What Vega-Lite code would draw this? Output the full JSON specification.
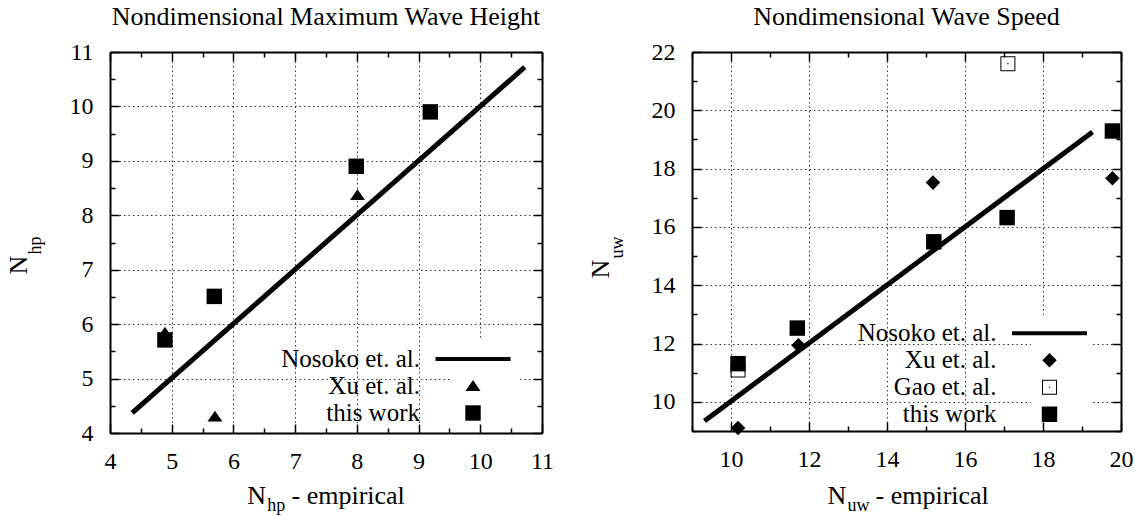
{
  "$schema": "https://vega.github.io/schema/vega-lite/v6.json",
  "background": "white",
  "padding": {"left": 5, "top": 4, "right": 0, "bottom": 0},
  "config": {
    "view": {"stroke": null},
    "font": "Liberation Serif",
    "axis": {"labelFont": "Liberation Serif", "titleFont": "Liberation Serif", "labelColor": "black", "titleColor": "black", "titleFontWeight": "normal", "domainColor": "black", "tickColor": "black", "labelFlush": false, "labelOverlap": false, "labelBound": false},
    "title": {"font": "Liberation Serif", "fontSize": 26, "fontWeight": "normal", "color": "black", "frame": "group", "anchor": "middle", "baseline": "alphabetic"}
  },
  "datasets": {
    "left": [
      {"series": "Nosoko et. al.", "x": 4.36, "y": 4.37},
      {"series": "Nosoko et. al.", "x": 10.72, "y": 10.72},
      {"series": "Xu et. al.", "x": 4.89, "y": 5.84},
      {"series": "Xu et. al.", "x": 5.7, "y": 4.3},
      {"series": "Xu et. al.", "x": 8.01, "y": 8.37},
      {"series": "this work", "x": 4.89, "y": 5.71},
      {"series": "this work", "x": 5.69, "y": 6.51},
      {"series": "this work", "x": 7.99, "y": 8.9},
      {"series": "this work", "x": 9.19, "y": 9.9}
    ],
    "right": [
      {"series": "Nosoko et. al.", "x": 9.32, "y": 9.34},
      {"series": "Nosoko et. al.", "x": 19.27, "y": 19.26},
      {"series": "Xu et. al.", "x": 10.18, "y": 9.1},
      {"series": "Xu et. al.", "x": 11.73, "y": 11.94},
      {"series": "Xu et. al.", "x": 15.18, "y": 17.52},
      {"series": "Xu et. al.", "x": 19.78, "y": 17.67},
      {"series": "Gao et. al.", "x": 10.18, "y": 11.09},
      {"series": "Gao et. al.", "x": 17.1, "y": 21.6},
      {"series": "this work", "x": 10.18, "y": 11.31},
      {"series": "this work", "x": 11.7, "y": 12.53},
      {"series": "this work", "x": 15.2, "y": 15.49},
      {"series": "this work", "x": 17.08, "y": 16.32},
      {"series": "this work", "x": 19.78, "y": 19.29}
    ]
  },
  "spacing": 33,
  "resolve": {"scale": {"shape": "independent"}, "legend": {"shape": "independent"}},
  "hconcat": [
    {
      "width": 432,
      "height": 381,
      "title": {"text": "Nondimensional Maximum Wave Height", "offset": 10},
      "data": {"name": "left"},
      "resolve": {"axis": {"x": "independent", "y": "independent"}},
      "layer": [
        {
          "transform": [{"filter": "datum.series === 'Nosoko et. al.'"}],
          "mark": {"type": "line", "color": "black", "strokeWidth": 5, "strokeCap": "butt"},
          "encoding": {
            "x": {"field": "x", "type": "quantitative", "scale": {"domain": [4, 11], "nice": false, "zero": false},
              "axis": {"orient": "bottom", "values": [4, 5, 6, 7, 8, 9, 10, 11], "ticks": false, "domain": false, "grid": true, "gridColor": "black", "gridDash": [1.5, 3], "gridWidth": 1, "gridOpacity": 0.8, "labelFontSize": 24, "labelPadding": 16, "title": "N", "titleFontSize": 26, "titleX": 136.7, "titleY": 70.3, "titleAlign": "left", "titleBaseline": "alphabetic", "zindex": 0}},
            "y": {"field": "y", "type": "quantitative", "scale": {"domain": [4, 11], "nice": false, "zero": false},
              "axis": {"orient": "left", "values": [4, 5, 6, 7, 8, 9, 10, 11], "ticks": false, "domain": false, "grid": true, "gridColor": "black", "gridDash": [1.5, 3], "gridWidth": 1, "gridOpacity": 0.8, "labelFontSize": 24, "labelPadding": 17, "title": "N", "titleFontSize": 26, "titleX": -83.3, "titleY": 222, "titleAngle": -90, "titleAlign": "left", "titleBaseline": "alphabetic", "zindex": 0}}
          }
        },
        {
          "transform": [{"filter": "datum.series !== 'Nosoko et. al.'"}],
          "mark": {"type": "point", "filled": true, "color": "black", "opacity": 1, "size": 225, "strokeWidth": 0},
          "encoding": {
            "x": {"field": "x", "type": "quantitative",
              "axis": {"orient": "top", "values": [4, 4.5, 5, 5.5, 6, 6.5, 7, 7.5, 8, 8.5, 9, 9.5, 10, 10.5, 11], "labels": false, "grid": false, "domain": true, "domainWidth": 2, "tickWidth": 1.5, "tickSize": {"condition": {"test": "datum.value % 1 != 0", "value": -5}, "value": -9}, "title": "- empirical", "titleFontSize": 26, "titleX": 181, "titleY": 451.3, "titleAngle": 0, "titleAlign": "left", "titleBaseline": "alphabetic", "zindex": 1}},
            "y": {"field": "y", "type": "quantitative",
              "axis": {"orient": "right", "values": [4, 4.5, 5, 5.5, 6, 6.5, 7, 7.5, 8, 8.5, 9, 9.5, 10, 10.5, 11], "labels": false, "grid": false, "title": null, "domain": true, "domainWidth": 2, "tickWidth": 1.5, "tickSize": {"condition": {"test": "datum.value % 1 != 0", "value": -5}, "value": -9}, "zindex": 1}},
            "shape": {"field": "series", "type": "nominal",
              "scale": {"domain": ["Nosoko et. al.", "Xu et. al.", "this work"],
                "range": ["M-5,-0.28H5V0.28H-5Z", "M0,-0.8L1,0.65L-1,0.65Z", "M-1.03,-1.03H1.03V1.03H-1.03Z"]},
              "legend": {"orient": "none", "legendX": 342.5, "legendY": 286.5, "title": null, "labelFont": "Liberation Serif", "labelFontSize": 25, "labelColor": "black", "labelAlign": "right", "labelOffset": -65.5, "labelLimit": 400, "symbolSize": 225, "symbolFillColor": "black", "symbolStrokeWidth": 0, "symbolOpacity": 1, "rowPadding": 1, "padding": 8, "fillColor": "white"}}
          }
        },
        {
          "mark": {"type": "point", "opacity": 0},
          "encoding": {
            "x": {"field": "x", "type": "quantitative",
              "axis": {"orient": "bottom", "values": [4, 4.5, 5, 5.5, 6, 6.5, 7, 7.5, 8, 8.5, 9, 9.5, 10, 10.5, 11], "labels": false, "grid": false, "domain": true, "domainWidth": 2, "tickWidth": 1.5, "tickSize": {"condition": {"test": "datum.value % 1 != 0", "value": -5}, "value": -9}, "title": "hp", "titleFontSize": 18, "titleX": 156.7, "titleY": 77.3, "titleAlign": "left", "titleBaseline": "alphabetic", "zindex": 1}},
            "y": {"field": "y", "type": "quantitative",
              "axis": {"orient": "left", "values": [4, 4.5, 5, 5.5, 6, 6.5, 7, 7.5, 8, 8.5, 9, 9.5, 10, 10.5, 11], "labels": false, "grid": false, "domain": true, "domainWidth": 2, "tickWidth": 1.5, "tickSize": {"condition": {"test": "datum.value % 1 != 0", "value": -5}, "value": -9}, "title": "hp", "titleFontSize": 18, "titleX": -70, "titleY": 202, "titleAngle": -90, "titleAlign": "left", "titleBaseline": "alphabetic", "zindex": 1}}
          }
        }
      ]
    },
    {
      "width": 429,
      "height": 379,
      "title": {"text": "Nondimensional Wave Speed", "offset": 10},
      "data": {"name": "right"},
      "resolve": {"axis": {"x": "independent", "y": "independent"}},
      "layer": [
        {
          "transform": [{"filter": "datum.series === 'Nosoko et. al.'"}],
          "mark": {"type": "line", "color": "black", "strokeWidth": 5, "strokeCap": "butt"},
          "encoding": {
            "x": {"field": "x", "type": "quantitative", "scale": {"domain": [9, 20], "nice": false, "zero": false},
              "axis": {"orient": "bottom", "values": [10, 12, 14, 16, 18, 20], "ticks": false, "domain": false, "grid": true, "gridColor": "black", "gridDash": [1.5, 3], "gridWidth": 1, "gridOpacity": 0.8, "labelFontSize": 24, "labelPadding": 16, "title": "N", "titleFontSize": 26, "titleX": 135, "titleY": 72, "titleAlign": "left", "titleBaseline": "alphabetic", "zindex": 0}},
            "y": {"field": "y", "type": "quantitative", "scale": {"domain": [9, 22], "nice": false, "zero": false},
              "axis": {"orient": "left", "values": [10, 12, 14, 16, 18, 20, 22], "ticks": false, "domain": false, "grid": true, "gridColor": "black", "gridDash": [1.5, 3], "gridWidth": 1, "gridOpacity": 0.8, "labelFontSize": 24, "labelPadding": 17, "title": "N", "titleFontSize": 26, "titleX": -83.3, "titleY": 226, "titleAngle": -90, "titleAlign": "left", "titleBaseline": "alphabetic", "zindex": 0}}
          }
        },
        {
          "transform": [{"filter": "datum.series !== 'Nosoko et. al.'"}],
          "mark": {"type": "point", "filled": true, "color": "black", "opacity": 1, "size": 225, "strokeWidth": 0},
          "encoding": {
            "x": {"field": "x", "type": "quantitative",
              "axis": {"orient": "top", "values": [9, 10, 11, 12, 13, 14, 15, 16, 17, 18, 19, 20], "labels": false, "grid": false, "domain": true, "domainWidth": 2, "tickWidth": 1.5, "tickSize": {"condition": {"test": "datum.value % 2 != 0", "value": -5}, "value": -9}, "title": "- empirical", "titleFontSize": 26, "titleX": 183, "titleY": 451, "titleAngle": 0, "titleAlign": "left", "titleBaseline": "alphabetic", "zindex": 1}},
            "y": {"field": "y", "type": "quantitative",
              "axis": {"orient": "right", "values": [9, 10, 11, 12, 13, 14, 15, 16, 17, 18, 19, 20, 21, 22], "labels": false, "grid": false, "title": null, "domain": true, "domainWidth": 2, "tickWidth": 1.5, "tickSize": {"condition": {"test": "datum.value % 2 != 0", "value": -5}, "value": -9}, "zindex": 1}},
            "shape": {"field": "series", "type": "nominal",
              "scale": {"domain": ["Nosoko et. al.", "Xu et. al.", "Gao et. al.", "this work"],
                "range": ["M-5,-0.28H5V0.28H-5Z", "M0,-0.97L0.97,0L0,0.97L-0.97,0Z", "M-1,-1H1V1H-1Z M-0.867,-0.867V0.867H0.867V-0.867Z M-0.08,-0.08H0.08V0.08H-0.08Z", "M-1.03,-1.03H1.03V1.03H-1.03Z"]},
              "legend": {"orient": "none", "legendX": 339, "legendY": 262.75, "title": null, "labelFont": "Liberation Serif", "labelFontSize": 25, "labelColor": "black", "labelAlign": "right", "labelOffset": -65.5, "labelLimit": 400, "symbolSize": 225, "symbolFillColor": "black", "symbolStrokeWidth": 0, "symbolOpacity": 1, "rowPadding": 1, "padding": 6, "fillColor": "white"}}
          }
        },
        {
          "mark": {"type": "point", "opacity": 0},
          "encoding": {
            "x": {"field": "x", "type": "quantitative",
              "axis": {"orient": "bottom", "values": [9, 10, 11, 12, 13, 14, 15, 16, 17, 18, 19, 20], "labels": false, "grid": false, "domain": true, "domainWidth": 2, "tickWidth": 1.5, "tickSize": {"condition": {"test": "datum.value % 2 != 0", "value": -5}, "value": -9}, "title": "uw", "titleFontSize": 18, "titleX": 155, "titleY": 79, "titleAlign": "left", "titleBaseline": "alphabetic", "zindex": 1}},
            "y": {"field": "y", "type": "quantitative",
              "axis": {"orient": "left", "values": [9, 10, 11, 12, 13, 14, 15, 16, 17, 18, 19, 20, 21, 22], "labels": false, "grid": false, "domain": true, "domainWidth": 2, "tickWidth": 1.5, "tickSize": {"condition": {"test": "datum.value % 2 != 0", "value": -5}, "value": -9}, "title": "uw", "titleFontSize": 18, "titleX": -70, "titleY": 206, "titleAngle": -90, "titleAlign": "left", "titleBaseline": "alphabetic", "zindex": 1}}
          }
        }
      ]
    }
  ]
}
